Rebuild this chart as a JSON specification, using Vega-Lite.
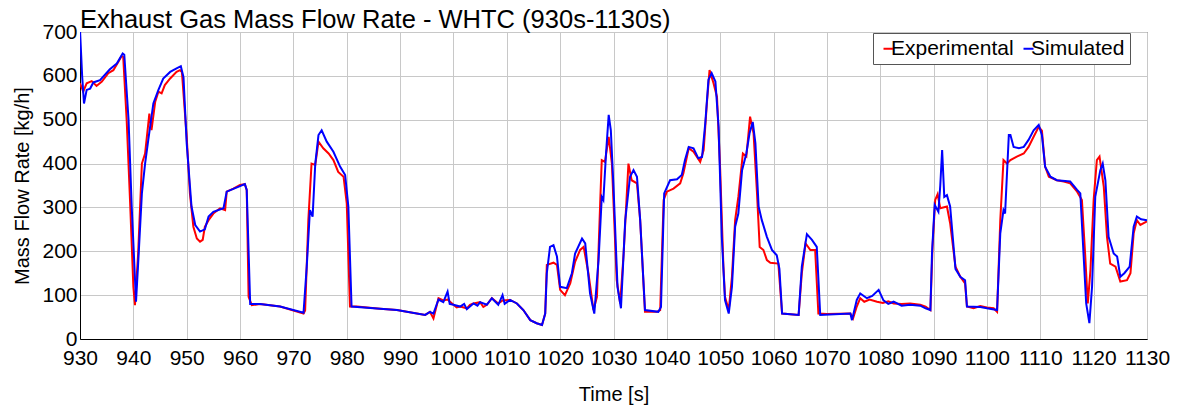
{
"$schema": "https://vega.github.io/schema/vega-lite/v6.json",
"autosize": {"type": "none"},
"padding": {"left": 80, "top": 32, "right": 30, "bottom": 71},
"width": 1067,
"height": 307,
"background": "white",
"title": {"text": "Exhaust Gas Mass Flow Rate - WHTC (930s-1130s)", "anchor": "start", "frame": "group", "fontSize": 25.5, "font": "Liberation Sans", "fontWeight": "normal", "color": "black", "offset": -12},
"config": {
 "font": "Liberation Sans",
 "view": {"stroke": "#333333", "strokeWidth": 1},
 "axis": {"gridColor": "#c8c8c8", "gridWidth": 1, "domainColor": "black", "domainWidth": 1, "ticks": false, "tickSize": 0, "labelFontSize": 21, "labelColor": "black", "titleFontSize": 20, "titleColor": "black", "titleFontWeight": "normal", "labelFont": "Liberation Sans", "titleFont": "Liberation Sans"}
},
"data": {"values": [
{"t":930.0,"v":583,"s":"Experimental"},{"t":930.6,"v":564,"s":"Experimental"},{"t":931.25,"v":583,"s":"Experimental"},{"t":932.2,"v":588,"s":"Experimental"},{"t":933.1,"v":577,"s":"Experimental"},{"t":934.1,"v":587,"s":"Experimental"},{"t":935.3,"v":606,"s":"Experimental"},{"t":936.25,"v":613,"s":"Experimental"},{"t":937.2,"v":632,"s":"Experimental"},{"t":937.8,"v":645,"s":"Experimental"},{"t":938.1,"v":643,"s":"Experimental"},{"t":938.75,"v":499,"s":"Experimental"},{"t":939.4,"v":309,"s":"Experimental"},{"t":940.0,"v":119,"s":"Experimental"},{"t":940.3,"v":77,"s":"Experimental"},{"t":940.9,"v":195,"s":"Experimental"},{"t":941.6,"v":400,"s":"Experimental"},{"t":942.2,"v":423,"s":"Experimental"},{"t":943.0,"v":514,"s":"Experimental"},{"t":943.4,"v":476,"s":"Experimental"},{"t":944.1,"v":541,"s":"Experimental"},{"t":944.7,"v":564,"s":"Experimental"},{"t":945.3,"v":560,"s":"Experimental"},{"t":945.9,"v":579,"s":"Experimental"},{"t":946.9,"v":594,"s":"Experimental"},{"t":948.1,"v":609,"s":"Experimental"},{"t":948.75,"v":613,"s":"Experimental"},{"t":949.1,"v":609,"s":"Experimental"},{"t":950.0,"v":461,"s":"Experimental"},{"t":950.6,"v":332,"s":"Experimental"},{"t":951.25,"v":256,"s":"Experimental"},{"t":951.9,"v":229,"s":"Experimental"},{"t":952.5,"v":222,"s":"Experimental"},{"t":953.0,"v":226,"s":"Experimental"},{"t":953.4,"v":256,"s":"Experimental"},{"t":954.1,"v":271,"s":"Experimental"},{"t":955.0,"v":286,"s":"Experimental"},{"t":956.25,"v":298,"s":"Experimental"},{"t":957.2,"v":294,"s":"Experimental"},{"t":957.5,"v":336,"s":"Experimental"},{"t":958.75,"v":343,"s":"Experimental"},{"t":960.0,"v":351,"s":"Experimental"},{"t":960.9,"v":353,"s":"Experimental"},{"t":961.25,"v":340,"s":"Experimental"},{"t":961.6,"v":96,"s":"Experimental"},{"t":962.2,"v":77,"s":"Experimental"},{"t":963.75,"v":80,"s":"Experimental"},{"t":967.5,"v":74,"s":"Experimental"},{"t":971.9,"v":58,"s":"Experimental"},{"t":972.2,"v":65,"s":"Experimental"},{"t":972.8,"v":271,"s":"Experimental"},{"t":973.4,"v":400,"s":"Experimental"},{"t":974.1,"v":397,"s":"Experimental"},{"t":974.7,"v":450,"s":"Experimental"},{"t":975.6,"v":435,"s":"Experimental"},{"t":976.6,"v":423,"s":"Experimental"},{"t":977.5,"v":408,"s":"Experimental"},{"t":978.4,"v":381,"s":"Experimental"},{"t":979.4,"v":370,"s":"Experimental"},{"t":980.0,"v":309,"s":"Experimental"},{"t":980.6,"v":74,"s":"Experimental"},{"t":981.9,"v":74,"s":"Experimental"},{"t":986.25,"v":69,"s":"Experimental"},{"t":989.4,"v":66,"s":"Experimental"},{"t":994.7,"v":55,"s":"Experimental"},{"t":995.6,"v":62,"s":"Experimental"},{"t":996.25,"v":47,"s":"Experimental"},{"t":997.2,"v":93,"s":"Experimental"},{"t":998.1,"v":88,"s":"Experimental"},{"t":998.9,"v":90,"s":"Experimental"},{"t":1000.0,"v":78,"s":"Experimental"},{"t":1000.6,"v":72,"s":"Experimental"},{"t":1001.25,"v":74,"s":"Experimental"},{"t":1002.5,"v":70,"s":"Experimental"},{"t":1003.1,"v":78,"s":"Experimental"},{"t":1003.75,"v":81,"s":"Experimental"},{"t":1005.0,"v":84,"s":"Experimental"},{"t":1005.6,"v":73,"s":"Experimental"},{"t":1006.25,"v":78,"s":"Experimental"},{"t":1007.2,"v":93,"s":"Experimental"},{"t":1008.4,"v":81,"s":"Experimental"},{"t":1009.2,"v":88,"s":"Experimental"},{"t":1010.6,"v":89,"s":"Experimental"},{"t":1011.9,"v":81,"s":"Experimental"},{"t":1013.1,"v":66,"s":"Experimental"},{"t":1014.4,"v":43,"s":"Experimental"},{"t":1015.6,"v":36,"s":"Experimental"},{"t":1016.6,"v":32,"s":"Experimental"},{"t":1017.2,"v":58,"s":"Experimental"},{"t":1017.5,"v":169,"s":"Experimental"},{"t":1018.75,"v":174,"s":"Experimental"},{"t":1019.4,"v":169,"s":"Experimental"},{"t":1020.0,"v":112,"s":"Experimental"},{"t":1020.9,"v":100,"s":"Experimental"},{"t":1021.9,"v":127,"s":"Experimental"},{"t":1022.8,"v":176,"s":"Experimental"},{"t":1023.75,"v":203,"s":"Experimental"},{"t":1024.4,"v":210,"s":"Experimental"},{"t":1025.3,"v":150,"s":"Experimental"},{"t":1026.25,"v":66,"s":"Experimental"},{"t":1026.9,"v":96,"s":"Experimental"},{"t":1027.5,"v":309,"s":"Experimental"},{"t":1027.8,"v":408,"s":"Experimental"},{"t":1028.4,"v":404,"s":"Experimental"},{"t":1029.1,"v":461,"s":"Experimental"},{"t":1029.7,"v":400,"s":"Experimental"},{"t":1030.6,"v":134,"s":"Experimental"},{"t":1031.25,"v":81,"s":"Experimental"},{"t":1031.9,"v":195,"s":"Experimental"},{"t":1032.8,"v":400,"s":"Experimental"},{"t":1033.4,"v":362,"s":"Experimental"},{"t":1034.4,"v":355,"s":"Experimental"},{"t":1035.0,"v":271,"s":"Experimental"},{"t":1035.9,"v":62,"s":"Experimental"},{"t":1038.1,"v":62,"s":"Experimental"},{"t":1038.75,"v":66,"s":"Experimental"},{"t":1039.4,"v":317,"s":"Experimental"},{"t":1040.0,"v":336,"s":"Experimental"},{"t":1041.25,"v":343,"s":"Experimental"},{"t":1042.5,"v":355,"s":"Experimental"},{"t":1043.1,"v":378,"s":"Experimental"},{"t":1044.1,"v":435,"s":"Experimental"},{"t":1045.0,"v":427,"s":"Experimental"},{"t":1046.25,"v":404,"s":"Experimental"},{"t":1046.9,"v":431,"s":"Experimental"},{"t":1047.5,"v":537,"s":"Experimental"},{"t":1048.0,"v":613,"s":"Experimental"},{"t":1048.75,"v":583,"s":"Experimental"},{"t":1049.4,"v":552,"s":"Experimental"},{"t":1050.0,"v":385,"s":"Experimental"},{"t":1050.6,"v":165,"s":"Experimental"},{"t":1050.9,"v":96,"s":"Experimental"},{"t":1051.6,"v":66,"s":"Experimental"},{"t":1052.2,"v":142,"s":"Experimental"},{"t":1052.8,"v":271,"s":"Experimental"},{"t":1053.4,"v":324,"s":"Experimental"},{"t":1054.25,"v":423,"s":"Experimental"},{"t":1054.9,"v":416,"s":"Experimental"},{"t":1055.6,"v":507,"s":"Experimental"},{"t":1056.25,"v":469,"s":"Experimental"},{"t":1056.9,"v":332,"s":"Experimental"},{"t":1057.4,"v":210,"s":"Experimental"},{"t":1058.1,"v":203,"s":"Experimental"},{"t":1058.75,"v":180,"s":"Experimental"},{"t":1059.4,"v":174,"s":"Experimental"},{"t":1060.9,"v":172,"s":"Experimental"},{"t":1061.6,"v":58,"s":"Experimental"},{"t":1064.7,"v":55,"s":"Experimental"},{"t":1065.3,"v":150,"s":"Experimental"},{"t":1066.0,"v":218,"s":"Experimental"},{"t":1066.9,"v":203,"s":"Experimental"},{"t":1067.8,"v":203,"s":"Experimental"},{"t":1068.4,"v":58,"s":"Experimental"},{"t":1070.0,"v":57,"s":"Experimental"},{"t":1074.4,"v":58,"s":"Experimental"},{"t":1074.9,"v":47,"s":"Experimental"},{"t":1075.6,"v":74,"s":"Experimental"},{"t":1076.25,"v":93,"s":"Experimental"},{"t":1077.0,"v":85,"s":"Experimental"},{"t":1078.0,"v":90,"s":"Experimental"},{"t":1079.4,"v":85,"s":"Experimental"},{"t":1080.5,"v":82,"s":"Experimental"},{"t":1081.5,"v":86,"s":"Experimental"},{"t":1082.5,"v":81,"s":"Experimental"},{"t":1084.0,"v":80,"s":"Experimental"},{"t":1085.6,"v":81,"s":"Experimental"},{"t":1087.5,"v":78,"s":"Experimental"},{"t":1088.5,"v":74,"s":"Experimental"},{"t":1089.4,"v":66,"s":"Experimental"},{"t":1089.8,"v":210,"s":"Experimental"},{"t":1090.3,"v":317,"s":"Experimental"},{"t":1090.75,"v":330,"s":"Experimental"},{"t":1091.25,"v":298,"s":"Experimental"},{"t":1092.5,"v":302,"s":"Experimental"},{"t":1093.1,"v":264,"s":"Experimental"},{"t":1094.1,"v":165,"s":"Experimental"},{"t":1095.0,"v":142,"s":"Experimental"},{"t":1095.9,"v":127,"s":"Experimental"},{"t":1096.25,"v":74,"s":"Experimental"},{"t":1097.5,"v":70,"s":"Experimental"},{"t":1098.75,"v":75,"s":"Experimental"},{"t":1100.0,"v":72,"s":"Experimental"},{"t":1101.25,"v":70,"s":"Experimental"},{"t":1101.9,"v":62,"s":"Experimental"},{"t":1102.5,"v":271,"s":"Experimental"},{"t":1103.1,"v":408,"s":"Experimental"},{"t":1103.75,"v":400,"s":"Experimental"},{"t":1104.4,"v":408,"s":"Experimental"},{"t":1105.6,"v":416,"s":"Experimental"},{"t":1106.9,"v":423,"s":"Experimental"},{"t":1107.8,"v":438,"s":"Experimental"},{"t":1108.75,"v":461,"s":"Experimental"},{"t":1109.7,"v":484,"s":"Experimental"},{"t":1110.3,"v":475,"s":"Experimental"},{"t":1110.9,"v":393,"s":"Experimental"},{"t":1111.6,"v":370,"s":"Experimental"},{"t":1113.1,"v":362,"s":"Experimental"},{"t":1114.4,"v":359,"s":"Experimental"},{"t":1115.6,"v":355,"s":"Experimental"},{"t":1116.9,"v":336,"s":"Experimental"},{"t":1117.8,"v":317,"s":"Experimental"},{"t":1118.4,"v":195,"s":"Experimental"},{"t":1118.9,"v":81,"s":"Experimental"},{"t":1119.4,"v":157,"s":"Experimental"},{"t":1120.0,"v":317,"s":"Experimental"},{"t":1120.6,"v":408,"s":"Experimental"},{"t":1121.1,"v":416,"s":"Experimental"},{"t":1121.9,"v":347,"s":"Experimental"},{"t":1122.5,"v":233,"s":"Experimental"},{"t":1123.1,"v":172,"s":"Experimental"},{"t":1124.1,"v":165,"s":"Experimental"},{"t":1125.0,"v":131,"s":"Experimental"},{"t":1126.25,"v":134,"s":"Experimental"},{"t":1126.9,"v":150,"s":"Experimental"},{"t":1127.5,"v":241,"s":"Experimental"},{"t":1128.1,"v":271,"s":"Experimental"},{"t":1128.75,"v":260,"s":"Experimental"},{"t":1130.0,"v":268,"s":"Experimental"},
{"t":930.0,"v":705,"s":"Simulated"},{"t":930.4,"v":600,"s":"Simulated"},{"t":930.75,"v":537,"s":"Simulated"},{"t":931.25,"v":568,"s":"Simulated"},{"t":931.9,"v":571,"s":"Simulated"},{"t":932.5,"v":585,"s":"Simulated"},{"t":933.75,"v":590,"s":"Simulated"},{"t":935.6,"v":615,"s":"Simulated"},{"t":936.9,"v":628,"s":"Simulated"},{"t":938.0,"v":651,"s":"Simulated"},{"t":938.3,"v":648,"s":"Simulated"},{"t":939.1,"v":500,"s":"Simulated"},{"t":939.7,"v":300,"s":"Simulated"},{"t":940.5,"v":85,"s":"Simulated"},{"t":940.9,"v":172,"s":"Simulated"},{"t":941.6,"v":332,"s":"Simulated"},{"t":942.2,"v":400,"s":"Simulated"},{"t":942.8,"v":454,"s":"Simulated"},{"t":943.75,"v":537,"s":"Simulated"},{"t":944.7,"v":568,"s":"Simulated"},{"t":945.6,"v":594,"s":"Simulated"},{"t":946.9,"v":609,"s":"Simulated"},{"t":948.1,"v":617,"s":"Simulated"},{"t":948.9,"v":622,"s":"Simulated"},{"t":949.4,"v":597,"s":"Simulated"},{"t":950.0,"v":446,"s":"Simulated"},{"t":950.9,"v":302,"s":"Simulated"},{"t":951.6,"v":260,"s":"Simulated"},{"t":952.5,"v":245,"s":"Simulated"},{"t":953.4,"v":250,"s":"Simulated"},{"t":954.1,"v":279,"s":"Simulated"},{"t":955.0,"v":290,"s":"Simulated"},{"t":956.9,"v":298,"s":"Simulated"},{"t":957.5,"v":336,"s":"Simulated"},{"t":960.9,"v":353,"s":"Simulated"},{"t":961.25,"v":340,"s":"Simulated"},{"t":961.9,"v":80,"s":"Simulated"},{"t":963.75,"v":80,"s":"Simulated"},{"t":967.5,"v":74,"s":"Simulated"},{"t":971.9,"v":60,"s":"Simulated"},{"t":972.5,"v":165,"s":"Simulated"},{"t":973.1,"v":294,"s":"Simulated"},{"t":973.6,"v":279,"s":"Simulated"},{"t":974.1,"v":400,"s":"Simulated"},{"t":974.7,"v":465,"s":"Simulated"},{"t":975.3,"v":476,"s":"Simulated"},{"t":976.25,"v":450,"s":"Simulated"},{"t":977.5,"v":427,"s":"Simulated"},{"t":978.75,"v":393,"s":"Simulated"},{"t":979.7,"v":374,"s":"Simulated"},{"t":980.3,"v":302,"s":"Simulated"},{"t":980.9,"v":74,"s":"Simulated"},{"t":986.25,"v":69,"s":"Simulated"},{"t":989.4,"v":66,"s":"Simulated"},{"t":994.7,"v":55,"s":"Simulated"},{"t":995.6,"v":62,"s":"Simulated"},{"t":996.25,"v":58,"s":"Simulated"},{"t":997.2,"v":90,"s":"Simulated"},{"t":998.1,"v":84,"s":"Simulated"},{"t":998.9,"v":108,"s":"Simulated"},{"t":999.3,"v":80,"s":"Simulated"},{"t":1000.0,"v":78,"s":"Simulated"},{"t":1001.25,"v":74,"s":"Simulated"},{"t":1002.0,"v":80,"s":"Simulated"},{"t":1002.5,"v":68,"s":"Simulated"},{"t":1003.75,"v":81,"s":"Simulated"},{"t":1004.5,"v":76,"s":"Simulated"},{"t":1005.0,"v":84,"s":"Simulated"},{"t":1006.25,"v":78,"s":"Simulated"},{"t":1007.2,"v":93,"s":"Simulated"},{"t":1008.4,"v":78,"s":"Simulated"},{"t":1009.2,"v":100,"s":"Simulated"},{"t":1009.6,"v":80,"s":"Simulated"},{"t":1010.6,"v":89,"s":"Simulated"},{"t":1011.9,"v":81,"s":"Simulated"},{"t":1013.1,"v":66,"s":"Simulated"},{"t":1014.4,"v":43,"s":"Simulated"},{"t":1015.6,"v":36,"s":"Simulated"},{"t":1016.6,"v":32,"s":"Simulated"},{"t":1017.2,"v":58,"s":"Simulated"},{"t":1017.5,"v":150,"s":"Simulated"},{"t":1018.1,"v":210,"s":"Simulated"},{"t":1018.75,"v":214,"s":"Simulated"},{"t":1019.4,"v":188,"s":"Simulated"},{"t":1020.0,"v":119,"s":"Simulated"},{"t":1021.25,"v":116,"s":"Simulated"},{"t":1022.2,"v":150,"s":"Simulated"},{"t":1022.8,"v":195,"s":"Simulated"},{"t":1024.1,"v":229,"s":"Simulated"},{"t":1024.7,"v":218,"s":"Simulated"},{"t":1025.6,"v":104,"s":"Simulated"},{"t":1026.4,"v":58,"s":"Simulated"},{"t":1027.2,"v":180,"s":"Simulated"},{"t":1027.8,"v":324,"s":"Simulated"},{"t":1028.1,"v":317,"s":"Simulated"},{"t":1028.6,"v":423,"s":"Simulated"},{"t":1029.1,"v":511,"s":"Simulated"},{"t":1029.5,"v":476,"s":"Simulated"},{"t":1030.0,"v":347,"s":"Simulated"},{"t":1030.75,"v":119,"s":"Simulated"},{"t":1031.4,"v":70,"s":"Simulated"},{"t":1032.2,"v":271,"s":"Simulated"},{"t":1033.1,"v":370,"s":"Simulated"},{"t":1033.75,"v":385,"s":"Simulated"},{"t":1034.4,"v":370,"s":"Simulated"},{"t":1035.0,"v":271,"s":"Simulated"},{"t":1035.9,"v":66,"s":"Simulated"},{"t":1038.4,"v":62,"s":"Simulated"},{"t":1038.9,"v":73,"s":"Simulated"},{"t":1039.5,"v":332,"s":"Simulated"},{"t":1040.6,"v":362,"s":"Simulated"},{"t":1041.9,"v":364,"s":"Simulated"},{"t":1042.8,"v":374,"s":"Simulated"},{"t":1043.4,"v":408,"s":"Simulated"},{"t":1044.1,"v":438,"s":"Simulated"},{"t":1045.0,"v":435,"s":"Simulated"},{"t":1045.9,"v":412,"s":"Simulated"},{"t":1046.6,"v":415,"s":"Simulated"},{"t":1047.2,"v":492,"s":"Simulated"},{"t":1047.8,"v":591,"s":"Simulated"},{"t":1048.4,"v":606,"s":"Simulated"},{"t":1049.1,"v":587,"s":"Simulated"},{"t":1049.7,"v":484,"s":"Simulated"},{"t":1050.3,"v":233,"s":"Simulated"},{"t":1050.9,"v":89,"s":"Simulated"},{"t":1051.6,"v":58,"s":"Simulated"},{"t":1052.2,"v":119,"s":"Simulated"},{"t":1052.8,"v":256,"s":"Simulated"},{"t":1053.4,"v":286,"s":"Simulated"},{"t":1054.1,"v":385,"s":"Simulated"},{"t":1054.9,"v":423,"s":"Simulated"},{"t":1055.5,"v":469,"s":"Simulated"},{"t":1056.1,"v":495,"s":"Simulated"},{"t":1056.6,"v":446,"s":"Simulated"},{"t":1057.2,"v":302,"s":"Simulated"},{"t":1057.8,"v":271,"s":"Simulated"},{"t":1058.75,"v":233,"s":"Simulated"},{"t":1059.7,"v":203,"s":"Simulated"},{"t":1060.6,"v":191,"s":"Simulated"},{"t":1061.1,"v":160,"s":"Simulated"},{"t":1061.6,"v":58,"s":"Simulated"},{"t":1064.7,"v":55,"s":"Simulated"},{"t":1065.3,"v":165,"s":"Simulated"},{"t":1066.25,"v":239,"s":"Simulated"},{"t":1067.2,"v":226,"s":"Simulated"},{"t":1068.1,"v":210,"s":"Simulated"},{"t":1068.75,"v":55,"s":"Simulated"},{"t":1074.4,"v":58,"s":"Simulated"},{"t":1074.7,"v":43,"s":"Simulated"},{"t":1075.6,"v":89,"s":"Simulated"},{"t":1076.25,"v":104,"s":"Simulated"},{"t":1077.5,"v":93,"s":"Simulated"},{"t":1078.5,"v":98,"s":"Simulated"},{"t":1079.7,"v":112,"s":"Simulated"},{"t":1080.6,"v":88,"s":"Simulated"},{"t":1081.5,"v":80,"s":"Simulated"},{"t":1082.5,"v":85,"s":"Simulated"},{"t":1084.0,"v":76,"s":"Simulated"},{"t":1085.6,"v":78,"s":"Simulated"},{"t":1087.5,"v":76,"s":"Simulated"},{"t":1088.5,"v":70,"s":"Simulated"},{"t":1089.4,"v":66,"s":"Simulated"},{"t":1089.7,"v":195,"s":"Simulated"},{"t":1090.2,"v":306,"s":"Simulated"},{"t":1090.9,"v":290,"s":"Simulated"},{"t":1091.25,"v":350,"s":"Simulated"},{"t":1091.6,"v":431,"s":"Simulated"},{"t":1092.0,"v":324,"s":"Simulated"},{"t":1092.5,"v":328,"s":"Simulated"},{"t":1093.1,"v":302,"s":"Simulated"},{"t":1094.1,"v":160,"s":"Simulated"},{"t":1095.0,"v":142,"s":"Simulated"},{"t":1095.9,"v":134,"s":"Simulated"},{"t":1096.25,"v":74,"s":"Simulated"},{"t":1098.75,"v":73,"s":"Simulated"},{"t":1100.0,"v":70,"s":"Simulated"},{"t":1101.9,"v":66,"s":"Simulated"},{"t":1102.5,"v":241,"s":"Simulated"},{"t":1103.1,"v":294,"s":"Simulated"},{"t":1103.4,"v":286,"s":"Simulated"},{"t":1104.1,"v":465,"s":"Simulated"},{"t":1104.4,"v":465,"s":"Simulated"},{"t":1105.0,"v":438,"s":"Simulated"},{"t":1106.0,"v":435,"s":"Simulated"},{"t":1106.9,"v":438,"s":"Simulated"},{"t":1107.8,"v":454,"s":"Simulated"},{"t":1108.75,"v":476,"s":"Simulated"},{"t":1109.7,"v":488,"s":"Simulated"},{"t":1110.3,"v":465,"s":"Simulated"},{"t":1110.9,"v":393,"s":"Simulated"},{"t":1111.9,"v":370,"s":"Simulated"},{"t":1113.1,"v":362,"s":"Simulated"},{"t":1115.6,"v":359,"s":"Simulated"},{"t":1116.9,"v":340,"s":"Simulated"},{"t":1117.5,"v":332,"s":"Simulated"},{"t":1118.1,"v":195,"s":"Simulated"},{"t":1118.6,"v":81,"s":"Simulated"},{"t":1119.2,"v":36,"s":"Simulated"},{"t":1119.7,"v":119,"s":"Simulated"},{"t":1120.3,"v":324,"s":"Simulated"},{"t":1121.25,"v":385,"s":"Simulated"},{"t":1121.7,"v":400,"s":"Simulated"},{"t":1122.2,"v":362,"s":"Simulated"},{"t":1122.8,"v":233,"s":"Simulated"},{"t":1123.75,"v":195,"s":"Simulated"},{"t":1124.4,"v":188,"s":"Simulated"},{"t":1125.0,"v":142,"s":"Simulated"},{"t":1125.75,"v":150,"s":"Simulated"},{"t":1126.75,"v":165,"s":"Simulated"},{"t":1127.5,"v":256,"s":"Simulated"},{"t":1128.1,"v":279,"s":"Simulated"},{"t":1128.9,"v":273,"s":"Simulated"},{"t":1130.0,"v":271,"s":"Simulated"}
]},
"mark": {"type": "line", "strokeWidth": 2, "clip": true},
"encoding": {
 "x": {"field": "t", "type": "quantitative", "title": "Time [s]", "scale": {"domain": [930, 1130], "nice": false, "zero": false},
   "axis": {"values": [930,940,950,960,970,980,990,1000,1010,1020,1030,1040,1050,1060,1070,1080,1090,1100,1110,1120,1130], "format": "d", "labelPadding": 8, "titlePadding": 16, "labelFlush": false, "labelOverlap": false}},
 "y": {"field": "v", "type": "quantitative", "title": "Mass Flow Rate [kg/h]", "scale": {"domain": [0, 700], "nice": false},
   "axis": {"values": [0,100,200,300,400,500,600,700], "labelPadding": 3, "titlePadding": 9}},
 "color": {"field": "s", "type": "nominal", "scale": {"domain": ["Experimental", "Simulated"], "range": ["#ff0000", "#0000ff"]},
   "legend": {"title": null, "orient": "none", "legendX": 793, "legendY": 1, "direction": "horizontal", "fillColor": "white", "strokeColor": "#555555", "padding": 5, "symbolType": "stroke", "symbolSize": 100, "symbolStrokeWidth": 2, "labelFontSize": 21, "labelOffset": -8, "columnPadding": 4, "labelColor": "black", "labelLimit": 300}},
 "order": {"field": "t", "type": "quantitative"}
}
}
